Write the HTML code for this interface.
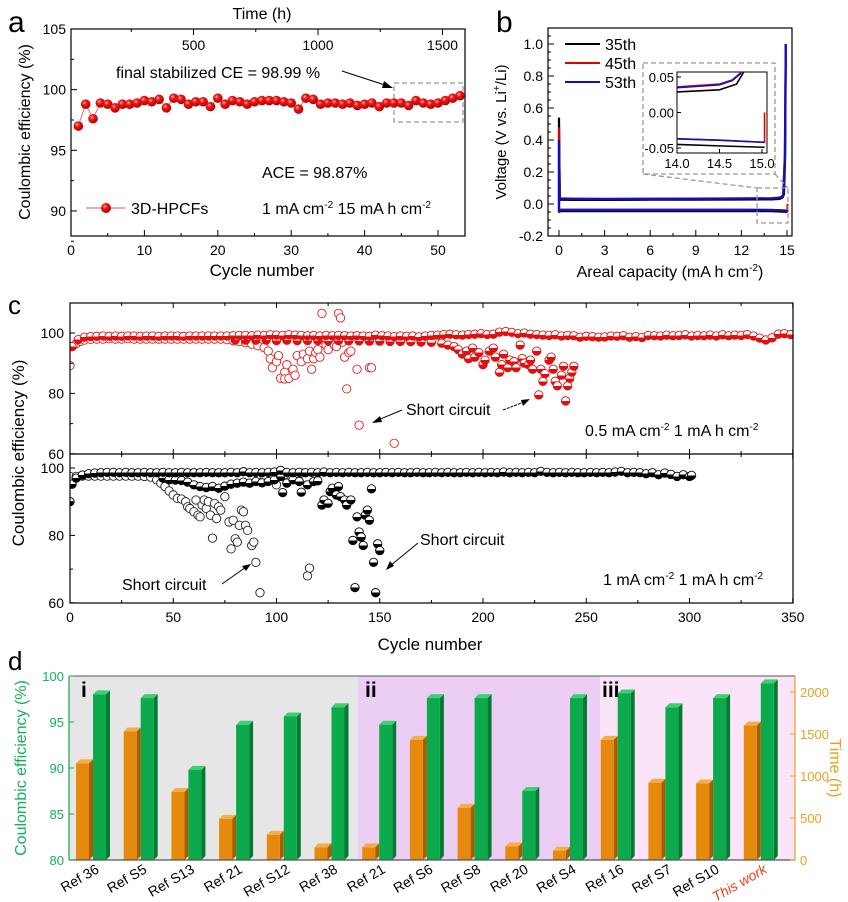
<!DOCTYPE html>
<html><head><meta charset="utf-8">
<style>
html,body{margin:0;padding:0;background:#fff;}
svg{display:block;font-family:"Liberation Sans",Arial,sans-serif;}
</style></head>
<body>
<svg id="fig" width="848" height="902" viewBox="0 0 848 902" xmlns="http://www.w3.org/2000/svg">
<defs>
<radialGradient id="ball" cx="0.38" cy="0.35" r="0.65">
<stop offset="0" stop-color="#ffb0b0"/><stop offset="0.35" stop-color="#f21818"/><stop offset="1" stop-color="#b00000"/>
</radialGradient>
<linearGradient id="halfR" x1="0" y1="0" x2="0" y2="1"><stop offset="0.5" stop-color="#fff"/><stop offset="0.5" stop-color="#e01010"/></linearGradient>
<linearGradient id="halfK" x1="0" y1="0" x2="0" y2="1"><stop offset="0.5" stop-color="#fff"/><stop offset="0.5" stop-color="#000"/></linearGradient>
<clipPath id="clipB"><rect x="548" y="28" width="244" height="208"/></clipPath>
<clipPath id="clipInset"><rect x="677" y="72" width="90" height="81"/></clipPath>
<clipPath id="clipCT"><rect x="70" y="303" width="723" height="151"/></clipPath>
<clipPath id="clipCB"><rect x="70" y="454" width="723" height="149"/></clipPath>
</defs>

<!-- Panel labels -->
<text x="8" y="32" font-size="30">a</text>
<text x="496" y="32" font-size="30">b</text>
<text x="8" y="314" font-size="26">c</text>
<text x="8" y="670" font-size="26">d</text>

<!-- ===== Panel a ===== -->
<g id="pa">
<rect x="71" y="29" width="394" height="207" fill="none" stroke="#000" stroke-width="1.2"/>
<g id="pa-ticks"></g>
<text x="262" y="19" font-size="16" text-anchor="middle">Time (h)</text>
<text x="262" y="276" font-size="17" text-anchor="middle">Cycle number</text>
<text transform="translate(30,132) rotate(-90)" font-size="16" text-anchor="middle">Coulombic efficiency (%)</text>
<rect x="394" y="83" width="69" height="39" fill="none" stroke="#999" stroke-width="1.3" stroke-dasharray="5,3"/>
<text x="116" y="78" font-size="16">final stabilized CE = 98.99 %</text>
<line x1="342" y1="71" x2="388" y2="86" stroke="#000" stroke-width="1"/>
<polygon points="393,88 384,81 382,88" fill="#000"/>
<text x="262" y="178" font-size="16">ACE = 98.87%</text>
<text x="262" y="214" font-size="16">1 mA cm<tspan dy="-6" font-size="10">-2</tspan><tspan dy="6"> 15 mA h cm</tspan><tspan dy="-6" font-size="10">-2</tspan></text>
<g>
<line x1="86" y1="208" x2="125" y2="208" stroke="#e05050" stroke-width="1"/>
<circle cx="106" cy="208" r="5" fill="url(#ball)"/>
<text x="131" y="214" font-size="16">3D-HPCFs</text>
</g>
<g id="pa-marks"></g>
</g>

<!-- ===== Panel b ===== -->
<g id="pb">
<rect x="548" y="28" width="244" height="208" fill="none" stroke="#000" stroke-width="1.2"/>
<g id="pb-ticks"></g>
<text x="670" y="277" font-size="16" text-anchor="middle">Areal capacity (mA h cm<tspan dy="-6" font-size="10">-2</tspan><tspan dy="6">)</tspan></text>
<text transform="translate(506,132) rotate(-90)" font-size="15" text-anchor="middle">Voltage (V vs. Li<tspan dy="-6" font-size="10">+</tspan><tspan dy="6">/Li)</tspan></text>
<g id="pb-lines" clip-path="url(#clipB)"></g>
<g>
<line x1="565" y1="44" x2="600" y2="44" stroke="#000" stroke-width="2"/>
<text x="605" y="50" font-size="16">35th</text>
<line x1="565" y1="63" x2="600" y2="63" stroke="#e00000" stroke-width="2"/>
<text x="605" y="69" font-size="16">45th</text>
<line x1="565" y1="82" x2="600" y2="82" stroke="#1010c0" stroke-width="2"/>
<text x="605" y="88" font-size="16">53th</text>
</g>
<rect x="643" y="63" width="132" height="111" fill="none" stroke="#999" stroke-width="1.3" stroke-dasharray="5,3"/>
<rect x="757" y="188" width="31" height="35" fill="none" stroke="#999" stroke-width="1.3" stroke-dasharray="5,3"/>
<line x1="643" y1="174" x2="757" y2="188" stroke="#999" stroke-width="1.3" stroke-dasharray="5,3"/>
<line x1="775" y1="174" x2="788" y2="188" stroke="#999" stroke-width="1.3" stroke-dasharray="5,3"/>
<rect x="677" y="72" width="90" height="81" fill="#fff" stroke="#000" stroke-width="1"/>
<g id="pb-inset-ticks"></g>
<g id="pb-inset-lines" clip-path="url(#clipInset)"></g>
</g>

<!-- ===== Panel c ===== -->
<g id="pc">
<g id="pc-marks-top" clip-path="url(#clipCT)"></g>
<g id="pc-marks-bot" clip-path="url(#clipCB)"></g>
<rect x="70" y="303" width="723" height="300" fill="none" stroke="#000" stroke-width="1.2"/>
<line x1="70" y1="454" x2="793" y2="454" stroke="#000" stroke-width="1.2"/>
<g id="pc-ticks"></g>
<text x="430" y="650" font-size="17" text-anchor="middle">Cycle number</text>
<text transform="translate(24,453) rotate(-90)" font-size="17" text-anchor="middle">Coulombic efficiency (%)</text>
<text x="406" y="415" font-size="16">Short circuit</text>
<line x1="402" y1="410" x2="378" y2="420" stroke="#000" stroke-width="1"/>
<polygon points="372,423 380,416 382,422" fill="#000"/>
<line x1="503" y1="410" x2="524" y2="402" stroke="#000" stroke-width="1" stroke-dasharray="3,1"/>
<polygon points="530,399 521,400 523,406" fill="#000"/>
<text x="585" y="436" font-size="16">0.5 mA cm<tspan dy="-6" font-size="10">-2</tspan><tspan dy="6"> 1 mA h cm</tspan><tspan dy="-6" font-size="10">-2</tspan></text>
<text x="420" y="545" font-size="16">Short circuit</text>
<line x1="418" y1="543" x2="390" y2="566" stroke="#000" stroke-width="1"/>
<polygon points="386,570 390,561 394,566" fill="#000"/>
<text x="122" y="590" font-size="16">Short circuit</text>
<line x1="222" y1="584" x2="246" y2="567" stroke="#000" stroke-width="1"/>
<polygon points="251,564 242,566 246,571" fill="#000"/>
<text x="603" y="585" font-size="16">1 mA cm<tspan dy="-6" font-size="10">-2</tspan><tspan dy="6"> 1 mA h cm</tspan><tspan dy="-6" font-size="10">-2</tspan></text>
</g>

<!-- ===== Panel d ===== -->
<g id="pd">
<rect x="69" y="676" width="289" height="184" fill="#e6e6e6"/>
<rect x="358" y="676" width="242" height="184" fill="#eccdf4"/>
<rect x="600" y="676" width="195" height="184" fill="#fbe4f8"/>
<text x="81" y="697" font-size="21" font-weight="bold">i</text>
<text x="365" y="697" font-size="21" font-weight="bold">ii</text>
<text x="602" y="697" font-size="21" font-weight="bold">iii</text>
<g id="pd-bars"></g>
<line x1="69" y1="676" x2="795" y2="676" stroke="#555" stroke-width="1"/>
<line x1="69" y1="860" x2="795" y2="860" stroke="#555" stroke-width="1.2"/>
<line x1="69" y1="676" x2="69" y2="860" stroke="#14a855" stroke-width="1.2"/>
<line x1="795" y1="676" x2="795" y2="860" stroke="#e8a020" stroke-width="1.2"/>
<g id="pd-ticks"></g>
<text transform="translate(26,768) rotate(-90)" font-size="16" fill="#14b060" text-anchor="middle">Coulombic efficiency (%)</text>
<text transform="translate(830,768) rotate(90)" font-size="16" fill="#e8a020" text-anchor="middle">Time (h)</text>
</g>
</svg>

<script>
// ---------- Panel a data ----------
const aCycles = [1,2,3,4,5,6,7,8,9,10,11,12,13,14,15,16,17,18,19,20,21,22,23,24,25,26,27,28,29,30,31,32,33,34,35,36,37,38,39,40,41,42,43,44,45,46,47,48,49,50,51,52,53];
const aCE = [97.0,98.8,97.6,98.9,98.8,98.5,98.8,98.8,98.9,99.1,99.0,99.2,98.5,99.3,99.2,98.8,99.0,99.0,98.6,99.3,98.8,99.1,99.0,98.8,99.0,99.1,99.1,99.1,99.0,98.9,98.4,99.3,99.2,98.8,98.9,98.9,98.8,98.9,98.7,98.8,98.9,98.6,98.9,98.9,98.9,98.7,99.1,98.9,98.8,98.9,99.1,99.3,99.5];
const aXTicks = [0,10,20,30,40,50];
const aYTicks = [90,95,100,105];
const aTimeTicks = [500,1000,1500];

// ---------- Panel b data ----------
const bCap35 = [0,0,0.05,1,3,6,9,12,14,14.5,14.7,14.8,14.88,14.92];
const bV35 = [-0.05,0.54,0.027,0.026,0.026,0.027,0.027,0.028,0.029,0.032,0.04,0.06,0.3,1.0];
const bCap45 = [0,0,0.05,1,3,6,9,12,14,14.5,14.65,14.75,14.86,14.92];
const bV45 = [-0.05,0.48,0.035,0.033,0.032,0.033,0.034,0.035,0.036,0.04,0.046,0.056,0.3,1.0];
const bCap53 = [0,0,0.05,1,3,6,9,12,14,14.5,14.65,14.75,14.86,14.92];
const bV53 = [-0.05,0.40,0.034,0.032,0.031,0.032,0.033,0.034,0.035,0.039,0.045,0.055,0.3,1.0];
const bDisCap35 = [0,0.05,3,6,9,12,14,14.5,15.03];
const bDisV35 = [-0.055,-0.045,-0.045,-0.045,-0.045,-0.045,-0.045,-0.047,-0.049];
const bDisCap45 = [0,0.05,3,6,9,12,14,14.5,15.03,15.03];
const bDisV45 = [-0.05,-0.037,-0.037,-0.037,-0.037,-0.037,-0.037,-0.039,-0.042,0.0];
const bDisCap53 = [0,0.05,3,6,9,12,14,14.5,15.03];
const bDisV53 = [-0.05,-0.036,-0.036,-0.036,-0.036,-0.036,-0.037,-0.039,-0.042];
const bXTicks = [0,3,6,9,12,15];
const bYTicks = [-0.2,0.0,0.2,0.4,0.6,0.8,1.0];
const bInsetXTicks = [14.0,14.5,15.0];
const bInsetYTicks = [-0.05,0.00,0.05];

// ---------- Panel c data ----------
const cTopStable = [[1,95.5],[4,97.8],[7,98.6],[10,98.8],[13,98.9],[16,99],[19,98.9],[22,99],[25,98.9],[28,99],[31,99],[34,98.9],[37,99],[40,99],[43,98.9],[46,99],[49,99],[52,99],[55,98.9],[58,99],[61,99],[64,99],[67,99],[70,99],[73,99],[76,99],[79,99.1],[82,99.2],[85,99.2],[88,99.1],[91,99.3],[94,99.2],[97,99.4],[100,99.3],[103,99.2],[106,99.4],[109,99.3],[112,99.2],[115,99.1],[118,99.2],[121,99],[124,99.2],[127,99.1],[130,99.2],[133,99.1],[136,99],[139,99.1],[142,99],[145,98.9],[148,99.3],[151,99.1],[154,99],[157,98.8],[160,99],[163,98.9],[166,99],[169,98.7],[172,99],[175,99.2],[178,99.3],[181,99.5],[184,99.6],[187,99.4],[190,99.3],[193,99.5],[196,99.6],[199,99.8],[202,99.5],[205,99.6],[208,100.3],[211,100.5],[214,100.2],[217,99.8],[220,100],[223,99.6],[226,99.5],[229,99.3],[232,99.2],[235,99.4],[238,99],[241,99.2],[244,99.1],[247,98.6],[250,98.9],[253,98.8],[256,98.6],[259,98.7],[262,99],[265,98.9],[268,99.1],[271,98.6],[274,98.8],[277,98.5],[280,99.2],[283,99.1],[286,99],[289,99.3],[292,99.1],[295,99.2],[298,99.4],[301,99],[304,99.2],[307,99.1],[310,99.3],[313,99],[316,99.4],[319,99.1],[322,99.3],[325,99.2],[328,99.5],[331,99],[334,98.3],[337,97.7],[340,98.4],[343,99.6],[346,99.8],[349,99.5]];
const cTopOpen = [[0,89.2],[1,95.5],[3,96.5],[5,97.2],[7,97.7],[10,97.9],[13,98],[16,98],[19,98.1],[22,98],[25,98],[28,98.1],[31,98],[34,98],[37,98],[40,98],[43,98],[46,98],[49,98],[52,98],[55,98],[58,98],[61,98],[64,98],[67,98],[70,98],[73,98],[76,97.8],[79,97.5],[82,97.2],[85,96.8],[88,96.3],[91,95.8],[94,95.2],[96,94],[97,91.5],[98,88.5],[100,90.5],[101,92.5],[102,85],[104,87],[104,84.8],[105,89.5],[106,85],[108,88],[109,86],[110,92.5],[112,90.5],[113,93],[115,91.5],[116,94],[117,88],[118,91.5],[119,93.5],[120,94.5],[121,92],[122,106.5],[123,98.5],[124,96],[125,94.5],[127,97],[128,96],[129,95.5],[130,106.5],[131,105],[132,97],[133,92],[134,81.5],[135,93.5],[136,94],[139,88],[140,69.5],[145,97.5],[145,88.5],[146,88.5],[157,63.5]];
const cTopCrash = [[80,97.7],[85,97.6],[90,97.6],[95,97.6],[100,97.5],[105,97.6],[110,97.5],[115,97.5],[120,97.5],[125,97.4],[130,97.5],[135,97.4],[140,97.4],[145,97.3],[150,97.3],[155,97.2],[160,97.2],[165,97.1],[170,97],[175,96.9],[180,96.6],[183,96],[186,95.5],[188,94.5],[190,93],[192,94],[193,91.5],[195,95],[196,92],[198,93.5],[200,89.5],[201,91],[203,94],[205,95],[206,92],[208,87],[209,89.5],[210,93],[212,88.5],[213,91],[215,90.5],[216,88.5],[218,96],[219,91.5],[220,90],[222,89.5],[223,91],[224,88],[226,94],[227,79.5],[228,88],[229,84],[230,86.5],[232,91],[233,92],[234,88],[235,84],[236,82.5],[238,86],[239,89],[240,77.5],[241,82.5],[242,85],[243,87],[244,89]];
const cBotStable = [[0,90],[1,95.2],[3,97],[6,97.9],[9,98.3],[12,98.5],[15,98.6],[18,98.7],[21,98.7],[24,98.6],[27,98.7],[30,98.6],[33,98.6],[36,98.7],[39,98.6],[42,98.6],[45,98.7],[48,98.6],[51,98.6],[54,98.7],[57,98.6],[60,98.6],[63,98.6],[66,98.7],[69,98.6],[72,98.6],[75,98.6],[78,98.7],[81,98.6],[84,98.9],[87,98.6],[90,98.7],[93,98.6],[96,98.7],[99,98.8],[102,99.3],[105,98.7],[108,98.6],[111,98.7],[114,98.6],[117,98.7],[120,98.6],[123,98.8],[126,98.6],[129,98.7],[132,98.6],[135,98.7],[138,98.6],[141,98.6],[144,98.7],[147,98.6],[150,98.6],[153,98.7],[156,98.6],[159,98.7],[162,98.6],[165,98.6],[168,98.7],[171,98.6],[174,98.6],[177,98.7],[180,98.6],[183,98.7],[186,98.6],[189,98.6],[192,98.7],[195,98.6],[198,98.7],[201,98.6],[204,98.7],[207,98.6],[210,98.8],[213,98.6],[216,98.7],[219,98.6],[222,98.7],[225,98.6],[228,99],[231,98.7],[234,98.6],[237,98.7],[240,98.6],[243,98.7],[246,98.6],[249,98.6],[252,98.7],[255,98.6],[258,98.7],[261,98.6],[264,98.8],[267,99],[270,98.6],[273,98.7],[276,98.6],[279,98.3],[282,98.6],[285,98],[288,98.5],[291,98.1],[294,97.5],[297,98],[300,97.5],[301,97.8]];
const cBotOpen = [[0,97.5],[3,97.5],[6,97.6],[9,97.6],[12,97.6],[15,97.6],[18,97.6],[21,97.6],[24,97.6],[27,97.6],[30,97.6],[33,97.6],[36,97.5],[39,97.3],[42,96.5],[44,95.5],[46,94.5],[48,93.2],[50,92],[52,91],[54,90.8],[56,90],[57,88.5],[58,88],[60,87],[61,90.5],[62,86],[63,85.5],[64,89],[65,90.5],[66,88],[67,90],[68,86],[69,79.2],[70,89.5],[71,85],[72,88.5],[73,87.5],[75,91.5],[77,84],[78,76],[79,84.5],[80,79],[81,78],[82,83],[83,87.5],[84,87],[85,83],[86,81.5],[88,77],[89,78],[90,72],[92,63],[94,97.5],[100,95],[102,99.3],[104,98],[112,98.5],[115,68],[116,70.3]];
const cBotCrash = [[45,97],[48,96.5],[51,96.4],[54,96.3],[57,95.8],[60,95],[63,94.5],[66,94.2],[69,94.5],[72,94],[75,94.6],[78,95.2],[81,95.5],[84,95.8],[87,95.5],[90,96],[93,95.6],[96,96],[99,96.5],[102,97.5],[103,92.7],[105,95.5],[108,96.5],[111,96],[112,92.8],[115,95],[118,96],[120,96.2],[122,89],[123,90.5],[125,89.5],[126,93],[127,94],[129,92],[130,94.5],[131,91.5],[133,90.5],[134,89],[136,90.5],[137,78.5],[138,64.5],[139,85.5],[140,81],[141,79.5],[142,77],[143,86],[144,87.5],[145,84.5],[146,93.8],[147,72],[148,63],[149,77.5],[150,75.5]];
const cXTicks = [0,50,100,150,200,250,300,350];
const cTopYTicks = [60,80,100];
const cBotYTicks = [60,80,100];

// ---------- Panel d data ----------
const dLabels = ["Ref 36","Ref S5","Ref S13","Ref 21","Ref S12","Ref 38","Ref 21","Ref S6","Ref S8","Ref 20","Ref S4","Ref 16","Ref S7","Ref S10","This work"];
const dCE = [98.0,97.6,89.8,94.7,95.6,96.6,94.7,97.6,97.6,87.5,97.6,98.1,96.6,97.6,99.2];
const dTime = [1150,1530,810,490,300,150,150,1430,620,160,110,1430,920,910,1600];
const dCETicks = [80,85,90,95,100];
const dTimeTicks = [0,500,1000,1500,2000];

// ---------- helpers ----------
const NS = "http://www.w3.org/2000/svg";
function mk(tag, parent){ const e=document.createElementNS(NS,tag); parent.appendChild(e); return e; }
function $(id){ return document.getElementById(id); }

// ---------- Panel a ----------
const xa = c => 71 + c*7.34;
const ya = v => 29 + (105-v)*12.13;
const xta = h => 69 + h*0.249;
(function(){
  const g=$("pa-ticks");
  for(let c=0;c<=53;c+=5){
    const major = aXTicks.indexOf(c)>=0;
    const t=mk("line",g); t.setAttribute("x1",xa(c)); t.setAttribute("x2",xa(c)); t.setAttribute("y1",236); t.setAttribute("y2",236-(major?6:3)); t.setAttribute("stroke","#000");
    
    
  }
  aXTicks.forEach(c=>{
    const tx=mk("text",g); tx.setAttribute("x",xa(c)); tx.setAttribute("y",255); tx.setAttribute("font-size","14"); tx.setAttribute("text-anchor","middle"); tx.textContent=c;
    
    
  });
  for(let v=87.5; v<=105; v+=2.5){
    const major = aYTicks.indexOf(v)>=0;
    const t=mk("line",g); t.setAttribute("x1",71); t.setAttribute("x2",71+(major?6:3)); t.setAttribute("y1",ya(v)); t.setAttribute("y2",ya(v)); t.setAttribute("stroke","#000");
    
    
  }
  aYTicks.forEach(v=>{
    const tx=mk("text",g); tx.setAttribute("x",66); tx.setAttribute("y",ya(v)+5); tx.setAttribute("font-size","14"); tx.setAttribute("text-anchor","end"); tx.textContent=v;
    
    
  });
  for(let h=250; h<=1500; h+=250){
    const major = aTimeTicks.indexOf(h)>=0;
    const t=mk("line",g); t.setAttribute("x1",xta(h)); t.setAttribute("x2",xta(h)); t.setAttribute("y1",29); t.setAttribute("y2",29+(major?6:3)); t.setAttribute("stroke","#000");
    
    
  }
  aTimeTicks.forEach(h=>{
    const tx=mk("text",g); tx.setAttribute("x",xta(h)); tx.setAttribute("y",50); tx.setAttribute("font-size","14"); tx.setAttribute("text-anchor","middle"); tx.textContent=h;
    
    
  });
  const m=$("pa-marks");
  const pl=mk("polyline",m);
  pl.setAttribute("points", aCycles.map((c,i)=>xa(c)+","+ya(aCE[i])).join(" "));
  pl.setAttribute("fill","none"); pl.setAttribute("stroke","#e05050"); pl.setAttribute("stroke-width","0.8");
  
  
  aCycles.forEach((c,i)=>{
    const p=mk("circle",m); p.setAttribute("cx",xa(c)); p.setAttribute("cy",ya(aCE[i])); p.setAttribute("r",4.8); p.setAttribute("fill","url(#ball)");
    
    
  });
})();

// ---------- Panel b ----------
const xb = c => 559 + c*15.2;
const yb = v => 204 - v*160;
const xi = c => 677 + (c-14)*85;
const yi = v => 112.5 - v*710;
(function(){
  const g=$("pb-ticks");
  for(let c=0;c<=15.1;c+=1.5){
    const major = Math.abs(c/3-Math.round(c/3))<1e-6;
    const t=mk("line",g); t.setAttribute("x1",xb(c)); t.setAttribute("x2",xb(c)); t.setAttribute("y1",236); t.setAttribute("y2",236-(major?6:3)); t.setAttribute("stroke","#000");
    
    
  }
  bXTicks.forEach(c=>{
    const tx=mk("text",g); tx.setAttribute("x",xb(c)); tx.setAttribute("y",255); tx.setAttribute("font-size","14"); tx.setAttribute("text-anchor","middle"); tx.textContent=c;
    
    
  });
  for(let k=-4;k<=21;k++){
    const v=k*0.05; const major=(k%4===0);
    const t=mk("line",g); t.setAttribute("x1",548); t.setAttribute("x2",548+(major?6:3)); t.setAttribute("y1",yb(v)); t.setAttribute("y2",yb(v)); t.setAttribute("stroke","#000");
    
    
  }
  bYTicks.forEach(v=>{
    const tx=mk("text",g); tx.setAttribute("x",543); tx.setAttribute("y",yb(v)+5); tx.setAttribute("font-size","14"); tx.setAttribute("text-anchor","end"); tx.textContent=v.toFixed(1);
    
    
  });
  const L=$("pb-lines"), I=$("pb-inset-lines");
  const series=[[bDisCap35,bDisV35,"#000","discharge-35th"],[bDisCap45,bDisV45,"#e00000","discharge-45th"],[bDisCap53,bDisV53,"#1010c0","discharge-53rd"],
                [bCap35,bV35,"#000","charge-35th"],[bCap45,bV45,"#e00000","charge-45th"],[bCap53,bV53,"#1010c0","charge-53rd"]];
  series.forEach(s=>{
    const p=mk("polyline",L); p.setAttribute("points", s[0].map((c,i)=>xb(c)+","+yb(s[1][i])).join(" "));
    p.setAttribute("fill","none"); p.setAttribute("stroke",s[2]); p.setAttribute("stroke-width","2.2");
    
    
    const q=mk("polyline",I); q.setAttribute("points", s[0].map((c,i)=>xi(c)+","+yi(s[1][i])).join(" "));
    q.setAttribute("fill","none"); q.setAttribute("stroke",s[2]); q.setAttribute("stroke-width","1.6");
    
    
  });
  const gi=$("pb-inset-ticks");
  bInsetXTicks.forEach(c=>{
    const t=mk("line",gi); t.setAttribute("x1",xi(c)); t.setAttribute("x2",xi(c)); t.setAttribute("y1",153); t.setAttribute("y2",149); t.setAttribute("stroke","#000");
    
    
    const tx=mk("text",gi); tx.setAttribute("x",xi(c)); tx.setAttribute("y",168); tx.setAttribute("font-size","13"); tx.setAttribute("text-anchor","middle"); tx.textContent=c.toFixed(1);
    
    
  });
  bInsetYTicks.forEach(v=>{
    const t=mk("line",gi); t.setAttribute("x1",677); t.setAttribute("x2",681); t.setAttribute("y1",yi(v)); t.setAttribute("y2",yi(v)); t.setAttribute("stroke","#000");
    
    
    const tx=mk("text",gi); tx.setAttribute("x",674); tx.setAttribute("y",yi(v)+5); tx.setAttribute("font-size","13"); tx.setAttribute("text-anchor","end"); tx.textContent=v.toFixed(2);
    
    
  });
})();

// ---------- Panel c ----------
const xc = c => 70 + c*2.065;
const yct = v => 333 + (100-v)*3.02;
const ycb = v => 468 + (100-v)*3.37;
(function(){
  const g=$("pc-ticks");
  for(let c=0;c<=350;c+=25){
    const major = cXTicks.indexOf(c)>=0;
    [[603,-1],[454,-1],[454,1],[303,1]].forEach(b=>{
      const t=mk("line",g); t.setAttribute("x1",xc(c)); t.setAttribute("x2",xc(c)); t.setAttribute("y1",b[0]); t.setAttribute("y2",b[0]+b[1]*(major?5:3)); t.setAttribute("stroke","#000");
      
      
    });
  }
  cXTicks.forEach(c=>{
    const tx=mk("text",g); tx.setAttribute("x",xc(c)); tx.setAttribute("y",622); tx.setAttribute("font-size","14"); tx.setAttribute("text-anchor","middle"); tx.textContent=c;
    
    
  });
  for(let v=60; v<=100; v+=10){
    const major=cTopYTicks.indexOf(v)>=0;
    const t=mk("line",g); t.setAttribute("x1",70); t.setAttribute("x2",70+(major?5:3)); t.setAttribute("y1",yct(v)); t.setAttribute("y2",yct(v)); t.setAttribute("stroke","#000");
    
    
    const major2=cBotYTicks.indexOf(v)>=0;
    const t2=mk("line",g); t2.setAttribute("x1",70); t2.setAttribute("x2",70+(major2?5:3)); t2.setAttribute("y1",ycb(v)); t2.setAttribute("y2",ycb(v)); t2.setAttribute("stroke","#000");
    
    
  }
  cTopYTicks.forEach(v=>{
    const tx=mk("text",g); tx.setAttribute("x",64); tx.setAttribute("y",yct(v)+5); tx.setAttribute("font-size","14"); tx.setAttribute("text-anchor","end"); tx.textContent=v;
    
    
  });
  cBotYTicks.forEach(v=>{
    const tx=mk("text",g); tx.setAttribute("x",64); tx.setAttribute("y",ycb(v)+5); tx.setAttribute("font-size","14"); tx.setAttribute("text-anchor","end"); tx.textContent=v;
    
    
  });
  function draw(parent, data, yf, fill, stroke, name){
    data.forEach(d=>{
      const p=mk("circle",parent); p.setAttribute("cx",xc(d[0])); p.setAttribute("cy",yf(d[1])); p.setAttribute("r",4.2);
      p.setAttribute("fill",fill); p.setAttribute("stroke",stroke); p.setAttribute("stroke-width","0.9");
      
      
    });
  }
  const T=$("pc-marks-top"), B=$("pc-marks-bot");
  draw(T, cTopOpen, yct, "#fff", "#e02020", "open-red-point");
  draw(T, cTopCrash, yct, "url(#halfR)", "#e01010", "half-red-crash-point");
  draw(T, cTopStable, yct, "url(#halfR)", "#e01010", "half-red-stable-point");
  draw(B, cBotOpen, ycb, "#fff", "#222", "open-black-point");
  draw(B, cBotCrash, ycb, "url(#halfK)", "#000", "half-black-crash-point");
  draw(B, cBotStable, ycb, "url(#halfK)", "#000", "half-black-stable-point");
})();

// ---------- Panel d ----------
const xdo = i => 76 + i*47.7;
const yd = v => 860 - (v-80)*9.2;
const yh = h => 860 - h*0.084;
(function(){
  const g=$("pd-ticks");
  dCETicks.forEach(v=>{
    const t=mk("line",g); t.setAttribute("x1",69); t.setAttribute("x2",74); t.setAttribute("y1",yd(v)); t.setAttribute("y2",yd(v)); t.setAttribute("stroke","#14a855");
    
    
    const tx=mk("text",g); tx.setAttribute("x",64); tx.setAttribute("y",yd(v)+5); tx.setAttribute("font-size","13"); tx.setAttribute("fill","#14b060"); tx.setAttribute("text-anchor","end"); tx.textContent=v;
    
    
  });
  dTimeTicks.forEach(h=>{
    const t=mk("line",g); t.setAttribute("x1",795); t.setAttribute("x2",790); t.setAttribute("y1",yh(h)); t.setAttribute("y2",yh(h)); t.setAttribute("stroke","#e8a020");
    
    
    const tx=mk("text",g); tx.setAttribute("x",800); tx.setAttribute("y",yh(h)+5); tx.setAttribute("font-size","13"); tx.setAttribute("fill","#e8a020"); tx.setAttribute("text-anchor","start"); tx.textContent=h;
    
    
  });
  const B=$("pd-bars");
  function bar(x, top, cols, name){
    const w=13, dp=4;
    const side=mk("polygon",B); side.setAttribute("points", `${x+w},${top} ${x+w+dp},${top-dp} ${x+w+dp},${860-dp} ${x+w},860`); side.setAttribute("fill",cols[1]);
    
    
    const tp=mk("polygon",B); tp.setAttribute("points", `${x},${top} ${x+dp},${top-dp} ${x+w+dp},${top-dp} ${x+w},${top}`); tp.setAttribute("fill",cols[2]);
    
    
    const f=mk("rect",B); f.setAttribute("x",x); f.setAttribute("y",top); f.setAttribute("width",w); f.setAttribute("height",860-top); f.setAttribute("fill",cols[0]);
    
    
  }
  dLabels.forEach((lab,i)=>{
    bar(xdo(i), yh(dTime[i]), ["#e58a0c","#a85e00","#f3ae45"], "time-bar");
    bar(xdo(i)+17, yd(dCE[i]), ["#0caa4c","#067a33","#3ccf75"], "ce-bar");
    const tx=mk("text",B); tx.setAttribute("font-size","14");
    tx.setAttribute("transform",`translate(${xdo(i)+24},872) rotate(-30)`); tx.setAttribute("text-anchor","end");
    if(i===dLabels.length-1){ tx.setAttribute("fill","#e8401a"); tx.setAttribute("font-style","italic"); }
    tx.textContent=lab;
    
    
  });
})();
</script>
</body></html>
